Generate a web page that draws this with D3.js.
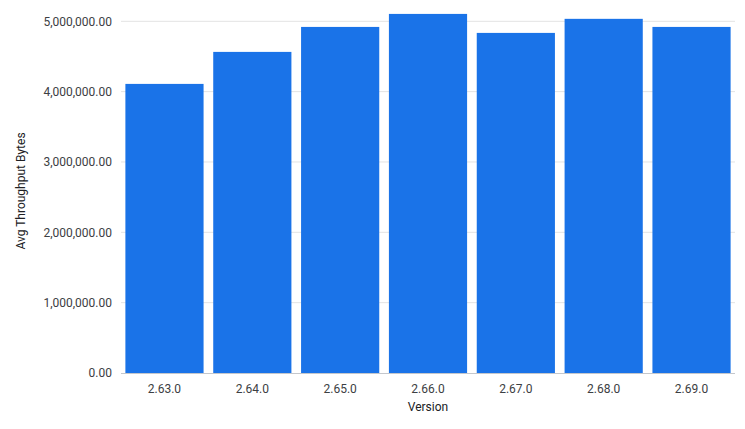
<!DOCTYPE html>
<html><head><meta charset="utf-8">
<script src="https://cdn.jsdelivr.net/npm/d3@7"></script>
<style>body{margin:0;background:#fff;}svg{display:block;font-family:Roboto,sans-serif;}</style>
</head><body><svg id="c" width="745" height="429"></svg>
<script>
const versions = ["2.63.0","2.64.0","2.65.0","2.66.0","2.67.0","2.68.0","2.69.0"];
const throughput = [4110000, 4565000, 4920000, 5105000, 4835000, 5035000, 4920000];
const yTicks = [0, 1000000, 2000000, 3000000, 4000000, 5000000];

const svg = d3.select("#c");
const left = 121, right = 735, base = 373, top5 = 21.3;
const x = d3.scaleBand().domain(versions).range([left, right]).paddingInner(0.11).paddingOuter(0.05);
const y = d3.scaleLinear().domain([0, 5000000]).range([base, top5]);
const fmt = d3.format(",.2f");

// gridlines
svg.append("g").selectAll("line").data(yTicks.filter(d=>d>0)).join("line")
  .attr("x1", left).attr("x2", right).attr("y1", d=>y(d)).attr("y2", d=>y(d))
  .attr("stroke", "#e3e3e3").attr("stroke-width", 1);

// y labels
svg.append("g").selectAll("text").data(yTicks).join("text")
  .attr("x", 112).attr("y", d=>y(d)).attr("dy", "0.35em").attr("text-anchor", "end")
  .attr("font-size", 12).attr("fill", "#3c4043").text(d=>fmt(d));

// bars
svg.append("g").selectAll("rect").data(versions).join("rect")
  .attr("x", d=>x(d)).attr("width", x.bandwidth())
  .attr("y", (d,i)=>y(throughput[i])).attr("height", (d,i)=>base - y(throughput[i]))
  .attr("fill", "#1a73e8");

// baseline
svg.append("line").attr("x1", left).attr("x2", right).attr("y1", base+0.5).attr("y2", base+0.5)
  .attr("stroke", "#c4c7cc").attr("stroke-width", 1);

// x labels
svg.append("g").selectAll("text").data(versions).join("text")
  .attr("x", d=>x(d)+x.bandwidth()/2).attr("y", 392.5).attr("text-anchor", "middle")
  .attr("font-size", 12).attr("fill", "#3c4043").text(d=>d);

svg.append("text").attr("x", 428).attr("y", 411).attr("text-anchor", "middle")
  .attr("font-size", 12).attr("fill", "#202124").text("Version");
svg.append("text").attr("transform", "translate(24.5,191) rotate(-90)").attr("text-anchor", "middle")
  .attr("font-size", 12).attr("fill", "#202124").text("Avg Throughput Bytes");
</script></body></html>
